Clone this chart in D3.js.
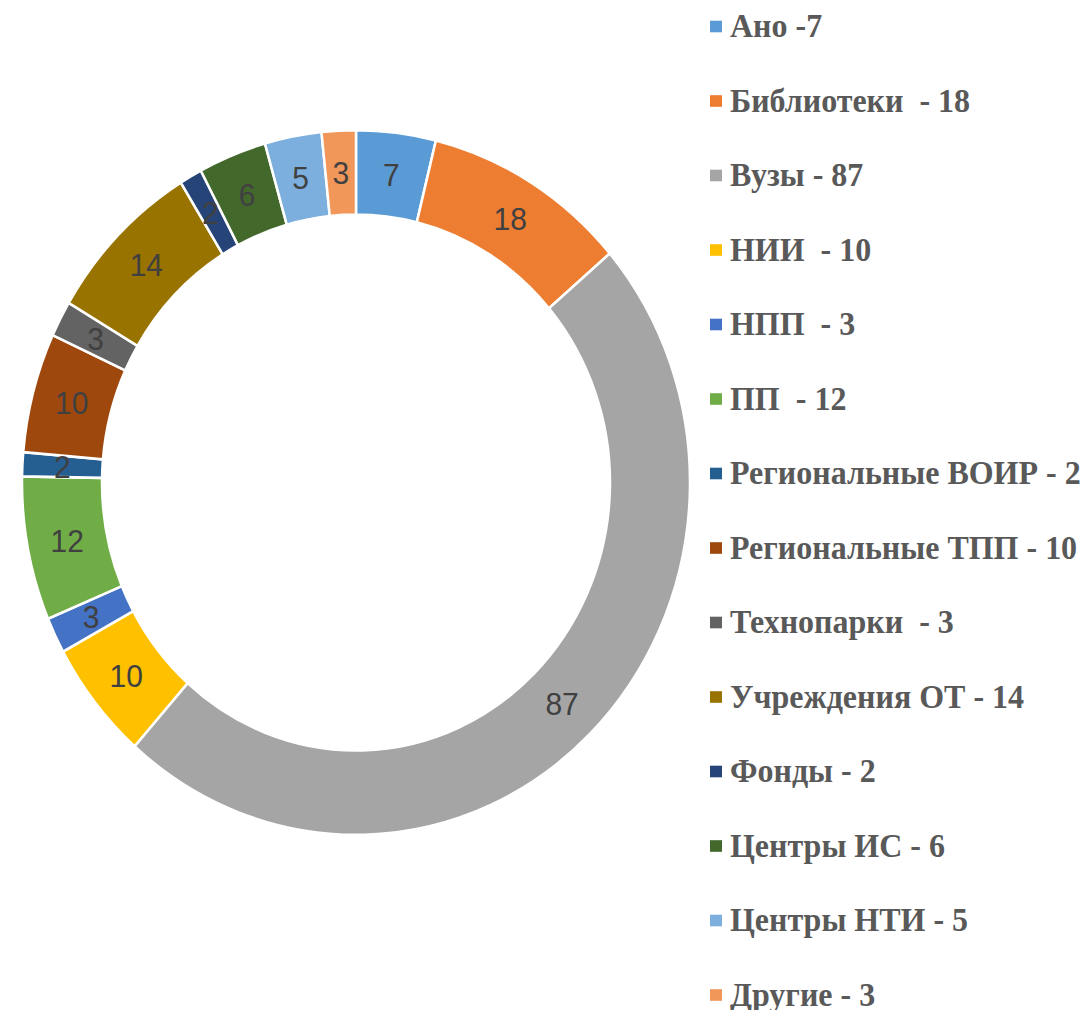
<!DOCTYPE html>
<html><head><meta charset="utf-8">
<script src="https://cdn.jsdelivr.net/npm/d3@7"></script>
<style>html,body{margin:0;padding:0;background:#fff;}</style>
</head><body>
<svg id="chart" width="1084" height="1010"></svg>
<script>
const categories = ["Ано","Библиотеки","Вузы","НИИ","НПП","ПП","Региональные ВОИР","Региональные ТПП","Технопарки","Учреждения ОТ","Фонды","Центры ИС","Центры НТИ","Другие"];
const values = [7,18,87,10,3,12,2,10,3,14,2,6,5,3];
const legendLabels = ["Ано -7","Библиотеки  - 18","Вузы - 87","НИИ  - 10","НПП  - 3","ПП  - 12","Региональные ВОИР - 2","Региональные ТПП - 10","Технопарки  - 3","Учреждения ОТ - 14","Фонды - 2","Центры ИС - 6","Центры НТИ - 5","Другие - 3"];
const colors = ["#5B9BD5","#ED7D31","#A5A5A5","#FFC000","#4472C4","#70AD47","#255E91","#9E480E","#636363","#997300","#264478","#43682B","#7CAFDD","#F1975A"];

const data = categories.map((c,i)=>({name:c, value:values[i], legend:legendLabels[i]}));
const sy = 1.055;
const svg = d3.select("#chart");
const root = svg.append("g").attr("transform",`scale(1,${sy})`);

const cx = 356, cy = 482.5/sy, outerR = 334, innerR = 254;
const color = d3.scaleOrdinal().domain(categories).range(colors);
const pie = d3.pie().value(d=>d.value).sort(null);
const arc = d3.arc().innerRadius(innerR).outerRadius(outerR);
const labelArc = d3.arc().innerRadius((innerR+outerR)/2).outerRadius((innerR+outerR)/2);

const g = root.append("g").attr("transform",`translate(${cx},${cy})`);
const arcs = pie(data);
g.selectAll("path").data(arcs).join("path")
  .attr("d",arc)
  .attr("fill",d=>color(d.data.name))
  .attr("stroke","#fff").attr("stroke-width",2.5);

g.selectAll("text.lbl").data(arcs).join("text")
  .attr("class","lbl")
  .attr("transform",d=>`translate(${labelArc.centroid(d)})`)
  .attr("text-anchor","middle").attr("dy","0.36em")
  .style("font-family","'Liberation Sans', Arial, sans-serif")
  .style("font-size","30px").attr("fill","#404040")
  .text(d=>d.data.value);

// legend
const legY = d3.scaleLinear().domain([0,categories.length-1]).range([26.5/sy, 995/sy]);
const leg = root.append("g");
const items = leg.selectAll("g").data(data).join("g")
  .attr("transform",(d,i)=>`translate(710,${legY(i)})`);
items.append("rect").attr("x",0).attr("y",-5.5).attr("width",12).attr("height",11)
  .attr("fill",d=>color(d.name));
items.append("text").attr("x",20).attr("y",10)
  .style("font-family","'Liberation Serif','Times New Roman',serif")
  .style("font-weight","bold").style("font-size","32px").style("white-space","pre")
  .attr("fill","#595959")
  .text(d=>d.legend);
</script>
</body></html>
